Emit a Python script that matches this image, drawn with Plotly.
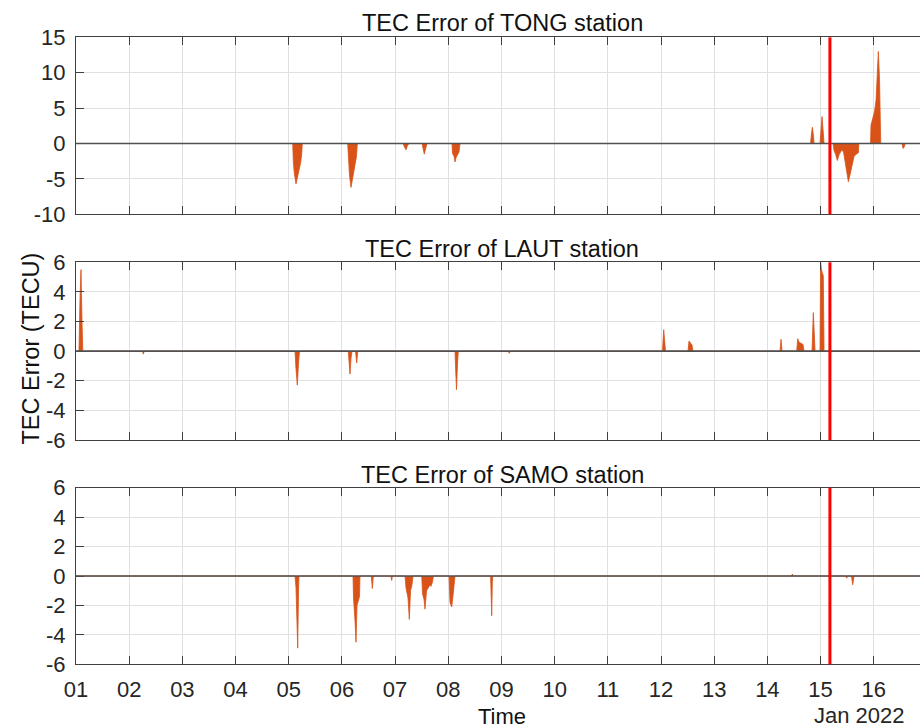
import pandas as pd
import plotly.graph_objects as go

# ---------------- data (day of January 2022, fractional; TEC error in TECU) ----------------
STATIONS = ["TONG", "LAUT", "SAMO"]

DAY_TONG = [1.0,
            5.075, 5.086, 5.105, 5.137, 5.156, 5.193, 5.222, 5.244, 5.255,
            6.109, 6.120, 6.143, 6.171, 6.199, 6.237, 6.275, 6.290,
            7.149, 7.177, 7.205, 7.233, 7.262,
            7.506, 7.525, 7.549, 7.572, 7.600,
            8.070, 8.080, 8.108, 8.127, 8.146, 8.174, 8.202, 8.221,
            8.822, 8.841, 8.860,
            9.105, 9.123, 9.141,
            14.812, 14.831, 14.846, 14.868, 14.878,
            14.990, 15.009, 15.028, 15.047, 15.066,
            15.235, 15.254, 15.282, 15.316, 15.348, 15.399, 15.432, 15.461, 15.489,
            15.523, 15.555, 15.592, 15.630, 15.677, 15.711, 15.720,
            15.940, 15.949, 15.987, 16.015, 16.044, 16.062, 16.087, 16.109, 16.132,
            16.532, 16.551, 16.579, 16.588,
            16.87]
VAL_TONG = [0,
            0, -2.5, -4.2, -5.7, -5.0, -4.0, -2.8, -1.5, 0,
            0, -2.5, -4.5, -6.2, -5.0, -3.5, -1.8, 0,
            0, -0.5, -0.9, -0.3, 0,
            0, -0.9, -1.5, -0.8, 0,
            0, -1.4, -1.8, -2.6, -2.0, -1.6, -1.2, 0,
            0, -0.1, 0,
            0, -0.1, 0,
            0, 1.5, 2.3, 1.0, 0,
            0, 2.0, 3.8, 2.0, 0,
            0, -1.0, -1.5, -2.4, -1.6, -0.9, -1.2, -2.5, -4.0,
            -5.4, -4.4, -3.0, -1.8, -1.5, -1.3, 0,
            0, 2.6, 3.6, 4.5, 6.1, 10.0, 13.0, 9.0, 0,
            0, -0.7, -0.4, 0,
            0]

DAY_LAUT = [1.0,
            1.056, 1.075, 1.094, 1.113, 1.128,
            2.248, 2.266, 2.284,
            5.118, 5.137, 5.161, 5.184, 5.203,
            6.120, 6.134, 6.152, 6.171, 6.190,
            6.256, 6.278, 6.299,
            8.127, 8.136, 8.155, 8.174, 8.189,
            9.130, 9.148, 9.166,
            12.028, 12.051, 12.075, 12.085,
            12.508, 12.527, 12.555, 12.584, 12.603,
            14.238, 14.257, 14.276,
            14.552, 14.571, 14.596, 14.633, 14.671, 14.690,
            14.840, 14.864, 14.887, 14.897,
            14.990, 15.001, 15.014, 15.033, 15.052, 15.066,
            16.87]
VAL_LAUT = [0,
            0, 3.5, 5.5, 2.0, 0,
            0, -0.2, 0,
            0, -1.2, -2.3, -0.8, 0,
            0, -0.8, -1.55, -0.5, 0,
            0, -0.8, 0,
            0, -1.0, -2.6, -0.8, 0,
            0, -0.15, 0,
            0, 1.45, 0.3, 0,
            0, 0.68, 0.55, 0.4, 0,
            0, 0.8, 0,
            0, 0.84, 0.6, 0.55, 0.45, 0,
            0, 2.6, 0.5, 0,
            0, 6.0, 5.6, 5.3, 5.1, 0,
            0]

DAY_SAMO = [1.0,
            5.118, 5.137, 5.156, 5.169, 5.184, 5.193,
            6.209, 6.218, 6.246, 6.265, 6.284, 6.312, 6.331, 6.340,
            6.553, 6.572, 6.591,
            6.923, 6.936, 6.949,
            7.187, 7.205, 7.243, 7.268, 7.290, 7.318, 7.337,
            7.501, 7.516, 7.544, 7.563, 7.591, 7.619, 7.657, 7.675, 7.704, 7.719,
            8.014, 8.033, 8.065, 8.090, 8.108, 8.127,
            8.796, 8.806, 8.817, 8.828, 8.836,
            14.452, 14.470, 14.488,
            15.475, 15.492, 15.509,
            15.582, 15.596, 15.605, 15.617, 15.629,
            16.87]
VAL_SAMO = [0,
            0, -0.8, -2.5, -4.9, -1.0, 0,
            0, -1.5, -3.0, -4.5, -2.0, -1.5, -1.4, 0,
            0, -0.85, 0,
            0, -0.3, 0,
            0, -0.8, -1.5, -2.95, -1.0, -0.6, 0,
            0, -1.2, -1.6, -2.25, -1.0, -0.8, -0.6, -0.7, -0.4, 0,
            0, -1.8, -2.1, -1.3, -0.8, 0,
            0, -1.0, -2.7, -0.5, 0,
            0, 0.13, 0,
            0, -0.15, 0,
            0, -0.4, -0.6, -0.3, 0,
            0]

Y_RANGES = [[-10, 15], [-6, 6], [-6, 6]]
Y_DTICK = [5, 2, 2]
ERUPTION = "2022-01-15 04:14"
X_START = "2022-01-01 00:00"
X_END = "2022-01-16 20:53"

DAYS = [DAY_TONG, DAY_LAUT, DAY_SAMO]
VALS = [VAL_TONG, VAL_LAUT, VAL_SAMO]


def to_time(days):
    return pd.Timestamp("2022-01-01") + pd.to_timedelta([d - 1.0 for d in days], unit="D")


# ---------------- figure ----------------
W, H = 920, 728
L, R, T, B = 76, 0, 0, 0
PW, PH = W - L - R, H - T - B
# axes pixel extents (top, bottom)
AX_PX = [(37.3, 214.3), (262.3, 440.0), (487.7, 664.3)]
TITLE_Y_PX = [23.0, 249.0, 474.5]

FONT = "Liberation Sans, Arial, Helvetica, sans-serif"
AXC = "#404040"
GRIDC = "#e0e0e0"
ORANGE = "#D95319"

fig = go.Figure()
layout = dict(
    width=W, height=H,
    margin=dict(l=L, r=R, t=T, b=B, pad=0, autoexpand=False),
    paper_bgcolor="white", plot_bgcolor="white",
    showlegend=False,
    font=dict(family=FONT, size=22, color="#262626"),
    shapes=[], annotations=[],
)

for i, st in enumerate(STATIONS):
    k = "" if i == 0 else str(i + 1)
    xa, ya = "x" + k, "y" + k
    fig.add_trace(go.Scatter(
        x=to_time(DAYS[i]), y=VALS[i], xaxis=xa, yaxis=ya,
        mode="lines", line=dict(color=ORANGE, width=0.8),
        fill="tozeroy", fillcolor=ORANGE, hoverinfo="skip",
    ))
    top, bot = AX_PX[i]
    dom = [(H - bot) / PH, (H - top) / PH]
    lo, hi = Y_RANGES[i]
    tv = list(range(lo, hi + 1, Y_DTICK[i]))
    layout["xaxis" + k] = dict(
        anchor=ya, domain=[0, 1], type="date", automargin=False,
        range=[X_START, X_END], tick0="2022-01-01", dtick=86400000,
        tickformat="%d", showticklabels=(i == 2),
        ticks="inside", ticklen=8, tickwidth=1.2, tickcolor=AXC,
        showline=True, linecolor=AXC, linewidth=1.3, mirror="ticks",
        showgrid=True, gridcolor=GRIDC, gridwidth=1, zeroline=False,
        ticklabelstandoff=5,
        tickfont=dict(size=22, color="#262626"),
        matches=None if i == 0 else "x",
    )
    layout["yaxis" + k] = dict(
        anchor=xa, domain=dom, range=Y_RANGES[i], automargin=False,
        tickmode="array", tickvals=tv, ticktext=[str(v) for v in tv],
        ticks="inside", ticklen=8, tickwidth=1.2, tickcolor=AXC,
        showline=True, linecolor=AXC, linewidth=1.3, mirror=False,
        showgrid=True, gridcolor=GRIDC, gridwidth=1, zeroline=False,
        ticklabelstandoff=5,
        tickfont=dict(size=22, color="#262626"),
    )
    # baseline at zero
    layout["shapes"].append(dict(
        type="line", xref=xa + " domain", yref=ya, x0=0, x1=1, y0=0, y1=0,
        line=dict(color="#505050", width=1.6), layer="above"))
    # eruption marker
    layout["shapes"].append(dict(
        type="line", xref=xa, yref=ya + " domain", x0=ERUPTION, x1=ERUPTION, y0=0, y1=1,
        line=dict(color="#ff0000", width=3), layer="above"))
    layout["annotations"].append(dict(
        text=f"TEC Error of {st} station", xref="paper", yref="paper",
        x=(502 - L) / PW, y=(H - TITLE_Y_PX[i]) / PH, xanchor="center", yanchor="middle",
        showarrow=False, font=dict(size=23.5, color="#111111")))

layout["annotations"].append(dict(
    text="TEC Error (TECU)", xref="paper", yref="paper", textangle=-90,
    x=(30.5 - L) / PW, y=(H - 349) / PH, xanchor="center", yanchor="middle",
    showarrow=False, font=dict(size=23.5, color="#111111")))
layout["annotations"].append(dict(
    text="Time", xref="paper", yref="paper",
    x=(502 - L) / PW, y=(H - 716) / PH, xanchor="center", yanchor="middle",
    showarrow=False, font=dict(size=22, color="#111111")))
layout["annotations"].append(dict(
    text="Jan 2022", xref="paper", yref="paper",
    x=(907 - L) / PW, y=(H - 715) / PH, xanchor="right", yanchor="middle",
    showarrow=False, font=dict(size=22, color="#262626")))

fig.update_layout(**layout)
fig.write_html("out.html")
